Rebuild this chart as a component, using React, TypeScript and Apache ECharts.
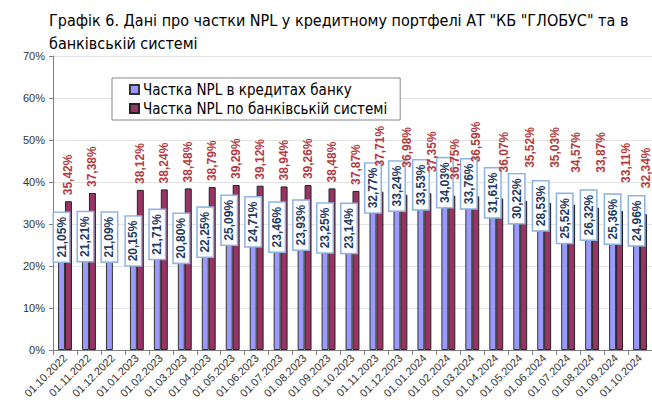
import React, { useEffect, useRef } from "react";
import * as echarts from "echarts";

const categories = [
  "01.10.2022", "01.11.2022", "01.12.2022", "01.01.2023", "01.02.2023", "01.03.2023",
  "01.04.2023", "01.05.2023", "01.06.2023", "01.07.2023", "01.08.2023", "01.09.2023",
  "01.10.2023", "01.11.2023", "01.12.2023", "01.01.2024", "01.02.2024", "01.03.2024",
  "01.04.2024", "01.05.2024", "01.06.2024", "01.07.2024", "01.08.2024", "01.09.2024",
  "01.10.2024",
];

const bankNPL = [
  21.05, 21.21, 21.09, 20.15, 21.71, 20.8, 22.25, 25.09, 24.71, 23.46, 23.93, 23.25,
  23.14, 32.77, 33.24, 33.53, 34.03, 33.76, 31.61, 30.22, 28.53, 25.52, 26.32, 25.36,
  24.96,
];

const systemNPL: (number | null)[] = [
  35.42, 37.38, null, 38.12, 38.24, 38.48, 38.79, 39.29, 39.12, 38.94, 39.26, 38.48,
  37.87, 37.71, 36.98, 37.35, 36.75, 36.59, 36.07, 35.52, 35.03, 34.57, 33.87, 33.11,
  32.34,
];

// manual label nudges (pixels) for the system-series labels, as in the original chart
const systemLabelDx = [0, 0, 0, 0, 0, 0, 0, 0, 0, 0, 0, 0, 0, 0, 3, 4, 3, 0, 4, 6, 7, 4, 5, 6, 3];
const systemLabelLift = [0, 0, 0, 0, 0, 0, 0, 0, 0, 0, 0, 0, 0, 19, 21, 15, 10, 28, 20, 27, 29, 26, 29, 22, 20];

const seriesNames = ["Частка NPL в кредитах банку", "Частка NPL по банківській системі"];
const titleText = 'Графік 6. Дані про частки NPL у кредитному портфелі АТ "КБ "ГЛОБУС" та в\nбанківській системі';

const fmt = (v: number) => v.toFixed(2).replace(".", ",") + "%";

export default function App() {
  const ref = useRef<HTMLDivElement>(null);
  useEffect(() => {
    if (!ref.current) return;
    const chart = echarts.init(ref.current, null, { renderer: "svg" });
    const narrow = '"DejaVu Sans Condensed", "Liberation Sans", sans-serif';
    chart.setOption({
      animation: false,
      backgroundColor: "#fff",
      title: {
        text: titleText,
        left: 44,
        top: 4,
        textStyle: {
          fontSize: 16,
          fontWeight: "normal",
          color: "#000",
          fontFamily: narrow,
          lineHeight: 23,
        },
      },
      legend: {
        orient: "vertical",
        left: 112,
        top: 78,
        backgroundColor: "#fff",
        borderColor: "#888",
        borderWidth: 1,
        padding: [4, 13, 4, 17],
        itemGap: 4,
        itemWidth: 9,
        itemHeight: 9,
        icon: "rect",
        textStyle: { fontSize: 15, color: "#000", fontFamily: narrow, padding: [0, 0, 0, -1] },
      },
      grid: { left: 53, top: 56, height: 294, right: -5 },
      xAxis: {
        type: "category",
        data: categories,
        axisLine: { lineStyle: { color: "#808080" } },
        axisTick: { show: true, length: 5, lineStyle: { color: "#808080" } },
        axisLabel: {
          interval: 0,
          rotate: 45,
          fontSize: 11,
          color: "#333",
          fontFamily: "Liberation Sans",
          margin: 6,
        },
      },
      yAxis: {
        type: "value",
        min: 0,
        max: 70,
        interval: 10,
        axisLine: { show: true, lineStyle: { color: "#808080" } },
        axisTick: { show: true, length: 4, lineStyle: { color: "#808080" } },
        splitLine: { lineStyle: { color: "#e3e3e3" } },
        axisLabel: {
          formatter: "{value}%",
          fontSize: 11,
          color: "#333",
          fontFamily: "Liberation Sans",
          margin: 8,
        },
      },
      series: [
        {
          name: seriesNames[0],
          type: "bar",
          data: bankNPL,
          barGap: "0%",
          barCategoryGap: "42%",
          itemStyle: { color: "#9999FF", borderColor: "#333", borderWidth: 1 },
          label: {
            show: true,
            position: "top",
            rotate: 90,
            align: "left",
            verticalAlign: "middle",
            distance: 0,
            formatter: (p: any) => fmt(p.value),
            backgroundColor: "#fff",
            borderColor: "#8DB3E2",
            borderWidth: 1.5,
            lineHeight: 13,
            padding: [1, 4, 1, 4],
            color: "#1F3A60",
            fontWeight: "bold",
            fontSize: 12,
            fontFamily: "Liberation Sans",
          },
          z: 2,
        },
        {
          name: seriesNames[1],
          type: "bar",
          data: systemNPL.map((v, i) => ({
            value: v,
            // rotated label: local x runs up the screen, local y runs to the right
            label: { offset: [systemLabelLift[i], systemLabelDx[i]] },
          })),
          itemStyle: { color: "#993366", borderColor: "#222", borderWidth: 1 },
          label: {
            show: true,
            position: "top",
            rotate: 90,
            align: "left",
            verticalAlign: "middle",
            distance: 6,
            formatter: (p: any) => (p.value == null ? "" : fmt(p.value)),
            color: "#B23A3E",
            fontWeight: "bold",
            fontSize: 12,
            fontFamily: "Liberation Sans",
          },
          z: 2,
        },
      ],
    });
    return () => chart.dispose();
  }, []);
  return <div ref={ref} style={{ width: 652, height: 410, position: "absolute", left: 0, top: 0 }} />;
}
